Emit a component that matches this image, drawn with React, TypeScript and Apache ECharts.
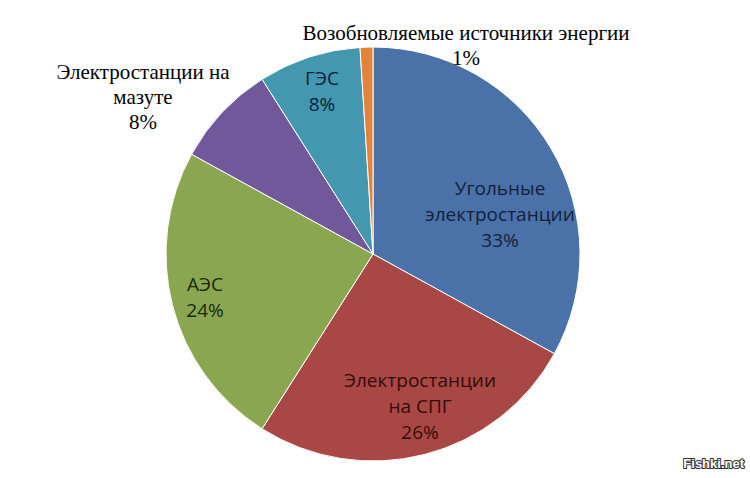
import React, { useEffect, useRef } from "react";
import * as echarts from "echarts";

const categories = [
  "Угольные\nэлектростанции",
  "Электростанции\nна СПГ",
  "АЭС",
  "Электростанции на\nмазуте",
  "ГЭС",
  "Возобновляемые источники энергии",
];
const shares = [33, 26, 24, 8, 8, 1];
const sliceColors = ["#4A72A8", "#A94745", "#8AA651", "#71589A", "#4398B0", "#E3833A"];
const labelColors = ["#13213a", "#350b0b", "#1a2708", "#ffffff", "#0a2333", "#000000"];
const outsideLabel = [false, false, false, true, false, true];
// label anchor positions (centre of text block), page pixels
const labelPos: [number, number][] = [
  [500, 214],
  [420, 406],
  [205, 297],
  [143, 97],
  [322, 91],
  [466, 45],
];

export default function App() {
  const ref = useRef<HTMLDivElement>(null);
  useEffect(() => {
    document.body.style.margin = "0";
    const chart = echarts.init(ref.current!, undefined, { renderer: "svg" });
    chart.setOption({
      animation: false,
      backgroundColor: "#ffffff",
      series: [
        {
          type: "pie",
          center: [373, 254],
          radius: 207,
          startAngle: 90,
          clockwise: true,
          avoidLabelOverlap: false,
          labelLine: { show: false },
          itemStyle: { borderColor: "#ffffff", borderWidth: 1 },
          label: {
            show: true,
            position: "inside",
            formatter: "{b}\n{c}%",
            fontFamily: "Open Sans",
            fontSize: 19,
            lineHeight: 26,
            align: "center",
          },
          labelLayout: (p: any) => ({
            x: labelPos[p.dataIndex][0],
            y: labelPos[p.dataIndex][1],
            align: "center",
            verticalAlign: "middle",
          }),
          data: categories.map((name, i) => ({
            name,
            value: shares[i],
            itemStyle: { color: sliceColors[i] },
            label: outsideLabel[i]
              ? {
                  color: "#000000",
                  fontFamily: "Liberation Serif",
                  fontSize: 21,
                  lineHeight: 25,
                }
              : { color: labelColors[i] },
          })),
        },
      ],
      graphic: [
        {
          type: "text",
          right: 5,
          top: 456,
          style: {
            text: "Fishki.net",
            fontFamily: "Liberation Sans",
            fontWeight: "bold",
            fontSize: 13,
            fill: "#ffffff",
            stroke: "#333333",
            lineWidth: 2,
          },
        },
      ],
    });
    return () => chart.dispose();
  }, []);
  return <div ref={ref} style={{ width: 750, height: 478 }} />;
}
